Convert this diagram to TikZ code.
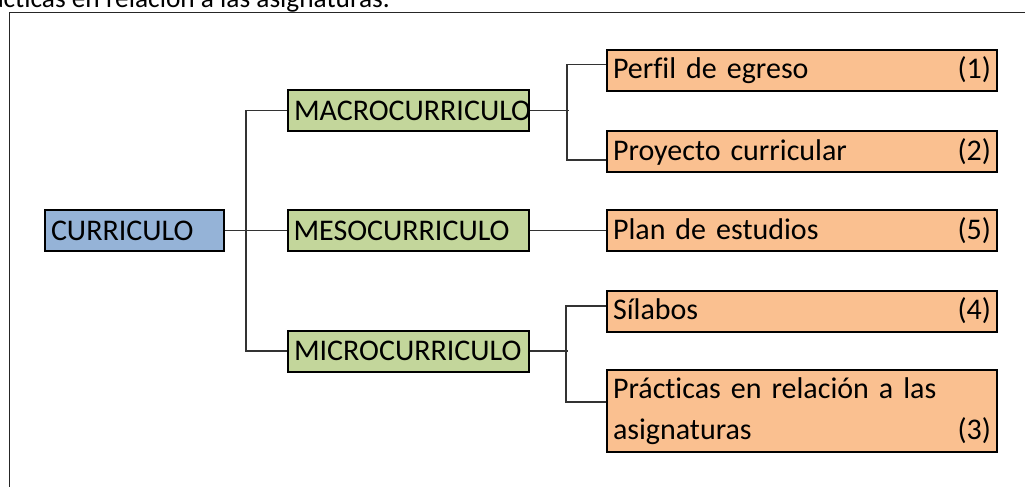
\documentclass[tikz,border=0pt]{standalone}
\usepackage{fontspec}
\setmainfont{Carlito}[Ligatures={NoCommon}]

\definecolor{azulraiz}{HTML}{95B3D7}
\definecolor{verdenivel}{HTML}{C3D69B}
\definecolor{naranjadoc}{HTML}{FAC090}

\begin{document}
\begin{tikzpicture}[x=0.75pt, y=-0.75pt,
        every node/.style={font=\fontsize{22.5}{30.75}\selectfont, inner xsep=4.5pt, inner ysep=0pt, align=left},
        raiz/.style={draw, line width=1.5pt, fill=azulraiz, minimum height=30.75pt, text width=125.25pt},
        nivel/.style={draw, line width=1.5pt, fill=verdenivel, minimum height=30.75pt, text width=171.75pt},
        documento/.style={draw, line width=1.5pt, fill=naranjadoc, minimum height=30.75pt, text width=283.5pt},
        conector/.style={draw=black!80, line width=1.1pt}]
        \useasboundingbox (0,0) rectangle (1025,486);

        % texto cortado arriba y marco
        \node[anchor=base east, inner xsep=0pt, font=\fontsize{20.5}{25}\selectfont] (nota) at (390,7) {Prácticas en relación a las asignaturas.};
        \draw[black!85, line width=1.2pt] (9.5,12.5) rectangle (1040,500);

        % niveles
        \node[raiz] (curriculo) at (134.5,230.5) {CURRICULO};
        \node[nivel] (macro) at (408.5,110.5) {MACROCURRICULO};
        \node[nivel] (meso) at (408,230.5) {MESOCURRICULO};
        \node[nivel] (micro) at (408.5,351) {MICROCURRICULO};

        % documentos
        \node[documento] (perfil) at (802,70.5) {Perfil de egreso\hskip0pt plus1filll(1)};
        \node[documento] (proyecto) at (802,151.5) {Proyecto curricular\hskip0pt plus1filll(2)};
        \node[documento] (plan) at (802,230.5) {Plan de estudios\hskip0pt plus1filll(5)};
        \node[documento] (silabos) at (802,311) {Sílabos\hskip0pt plus1filll(4)};
        \node[documento, minimum height=61.5pt] (practicas) at (802,411) {Prácticas en relación a las\\asignaturas\hskip0pt plus1filll(3)};

        % conectores
        \draw[conector] (curriculo.east) -- (meso.west);
        \draw[conector] (macro.west) -- ++(-41,0) |- (micro.west);
        \draw[conector] (macro.east) -- ++(39,0);
        \draw[conector] ([yshift=4.5pt]perfil.west) -- ++(-39,0) |- ([yshift=-6.4pt]proyecto.west);
        \draw[conector] (meso.east) -- (plan.west);
        \draw[conector] (micro.east) -- ++(38,0);
        \draw[conector] ([yshift=3.75pt]silabos.west) -- ++(-40,0) |- ([yshift=6.75pt]practicas.west);
    \end{tikzpicture}
\end{document}
